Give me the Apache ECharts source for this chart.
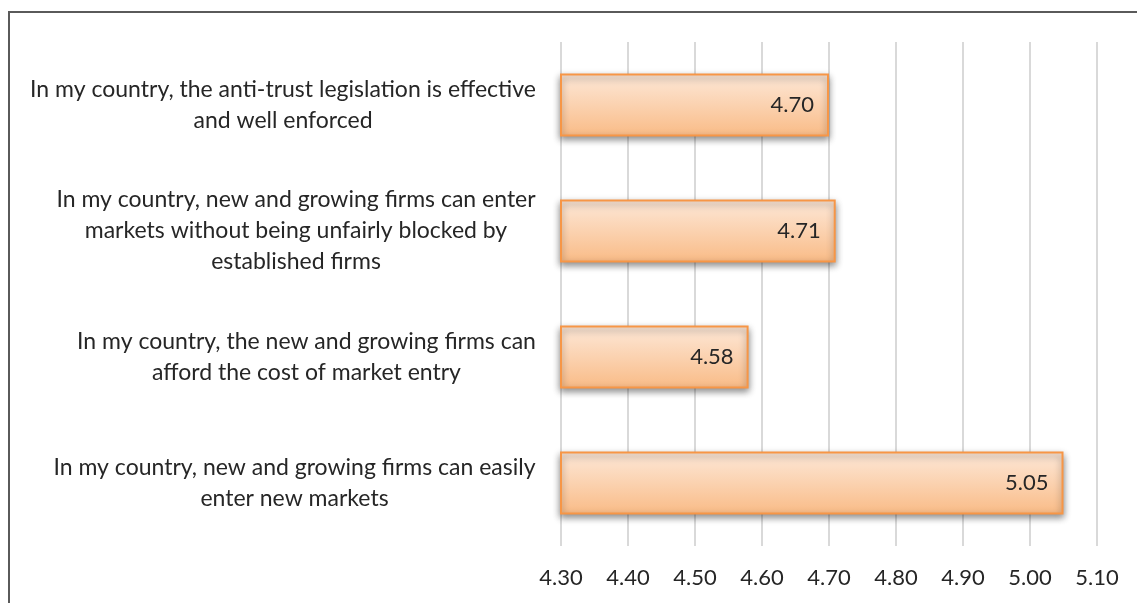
<!DOCTYPE html>
<html>
<head>
<meta charset="utf-8">
<script src="https://cdn.jsdelivr.net/npm/echarts@6/dist/echarts.min.js"></script>
<style>
  html, body { margin: 0; padding: 0; background: #fff; }
  #chart { width: 1137px; height: 603px; }
</style>
</head>
<body>
<div id="chart"></div>
<script>
// Survey statements (each entry is a list of wrapped lines) and mean scores
const categories = [
  ['In my country, the anti-trust legislation is effective', 'and well enforced'],
  ['In my country, new and growing firms can enter', 'markets without being unfairly blocked by', 'established firms'],
  ['In my country, the new and growing firms can', 'afford the cost of market entry'],
  ['In my country, new and growing firms can easily', 'enter new markets']
];
const scores = [4.70, 4.71, 4.58, 5.05];
const axisMin = 4.30;
const axisMax = 5.10;
const axisStep = 0.10;

const FONT = 'Lato, "Open Sans", sans-serif';
const CAT_SIZE = 23;
const NUM_SIZE = 22;
const TEXT_COLOR = '#262626';

// Measure each statement's widest line so lines can be centred in a right-aligned block
const ctx = document.createElement('canvas').getContext('2d');
ctx.font = CAT_SIZE + 'px ' + FONT;
const rich = {};
categories.forEach((lines, i) => {
  const w = Math.max(...lines.map(l => ctx.measureText(l).width));
  rich['b' + i] = {
    width: Math.ceil(w) + 2,
    align: 'center',
    fontFamily: FONT,
    fontSize: CAT_SIZE,
    lineHeight: 31,
    color: TEXT_COLOR
  };
});

const chart = echarts.init(document.getElementById('chart'));
chart.setOption({
  animation: false,
  backgroundColor: '#ffffff',
  graphic: [{
    type: 'rect',
    shape: { x: 9, y: 12, width: 3000, height: 3000 },
    style: { fill: 'none', stroke: '#5a5a5a', lineWidth: 2 },
    silent: true
  }],
  grid: { left: 561, right: 40, top: 42, bottom: 57 },
  xAxis: {
    type: 'value',
    min: axisMin,
    max: axisMax,
    interval: axisStep,
    axisLine: { show: false },
    axisTick: { show: false },
    splitLine: { lineStyle: { color: '#d9d9d9', width: 2 } },
    axisLabel: {
      margin: 21,
      fontFamily: FONT,
      fontSize: NUM_SIZE,
      color: TEXT_COLOR,
      formatter: v => v.toFixed(2)
    }
  },
  yAxis: {
    type: 'category',
    inverse: true,
    data: categories.map(lines => lines.join('\n')),
    axisLine: { show: false },
    axisTick: { show: false },
    axisLabel: {
      margin: 24,
      align: 'right',
      formatter: (value, idx) => categories[idx].map(l => '{b' + idx + '|' + l + '}').join('\n'),
      rich: rich
    }
  },
  series: [{
    type: 'bar',
    data: scores,
    barWidth: '50%',
    itemStyle: {
      color: new echarts.graphic.LinearGradient(0, 0, 0, 1, [
        { offset: 0, color: '#fde8d8' },
        { offset: 0.5, color: '#fbd2b0' },
        { offset: 1, color: '#f9bb86' }
      ]),
      borderColor: '#f79646',
      borderWidth: 2,
      shadowColor: 'rgba(0,0,0,0.45)',
      shadowBlur: 7,
      shadowOffsetX: 0,
      shadowOffsetY: 3
    },
    label: {
      show: true,
      position: 'insideRight',
      distance: 15,
      fontFamily: FONT,
      fontSize: NUM_SIZE,
      color: TEXT_COLOR,
      formatter: p => p.value.toFixed(2)
    }
  }]
});
</script>
</body>
</html>
